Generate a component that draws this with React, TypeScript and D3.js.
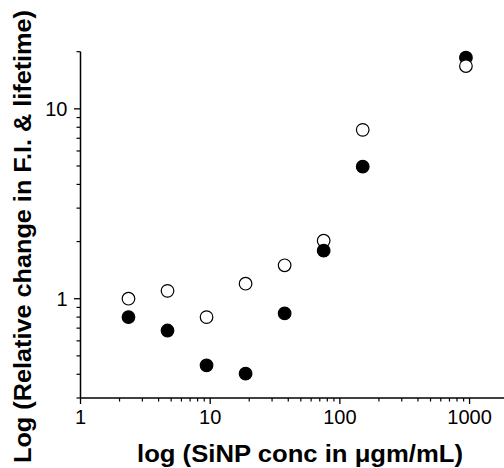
import React from "react";
import * as d3 from "d3";

const concentrations = [2.34375, 4.6875, 9.375, 18.75, 37.5, 75, 150, 937.5];
const openValues = [1.0, 1.1, 0.8, 1.2, 1.5, 2.02, 7.75, 16.8];
const filledValues = [0.8, 0.68, 0.446, 0.403, 0.837, 1.79, 4.96, 18.6];
const xMajorTicks = [1, 10, 100, 1000];
const yMajorTicks = [1, 10];
const xTitle = "log (SiNP conc in \u03BCgm/mL)";
const yTitle = "Log (Relative change in F.I. & lifetime)";

const W = 504;
const H = 468;
const FONT = "'Liberation Sans', Arial, Helvetica, sans-serif";

export default function App() {
  const x = d3.scaleLog().domain([1, 2000]).range([80.5, 508.6]);
  const y = d3.scaleLog().domain([0.3, 20]).range([398, 51.7]);

  const xMinor: number[] = [];
  for (const dec of [1, 10, 100, 1000]) {
    for (let m = 2; m <= 9; m++) {
      const v = dec * m;
      if (v <= 2000) xMinor.push(v);
    }
  }
  const yMinor: number[] = [];
  for (const dec of [0.1, 1, 10]) {
    for (let m = 2; m <= 9; m++) {
      const v = +(dec * m).toFixed(4);
      if (v >= 0.3 && v <= 20 && v !== 1 && v !== 10) yMinor.push(v);
    }
  }

  type P = { c: number; v: number; open: boolean };
  const points: P[] = [];
  concentrations.forEach((c, i) => {
    points.push({ c, v: openValues[i], open: true });
    points.push({ c, v: filledValues[i], open: false });
  });
  points.sort((a, b) => b.v - a.v);

  const x0 = x(1);
  const yb = y(0.3);

  return (
    <svg
      width={W}
      height={H}
      style={{ position: "absolute", left: 0, top: 0, background: "#fff" }}
      fontFamily={FONT}
    >
      <rect width={W} height={H} fill="#fff" />
      <line x1={x0} x2={W + 2} y1={yb} y2={yb} stroke="#000" strokeWidth={1.5} />
      <line x1={x0} x2={x0} y1={y(20)} y2={yb} stroke="#000" strokeWidth={1.5} />
      {xMajorTicks.map((t) => (
        <g key={"xm" + t}>
          <line x1={x(t)} x2={x(t)} y1={yb} y2={yb + 6} stroke="#000" strokeWidth={1.3} />
          <text x={x(t)} y={424} textAnchor="middle" fontSize={20} fill="#000">
            {t}
          </text>
        </g>
      ))}
      {xMinor.map((t) => (
        <line key={"xn" + t} x1={x(t)} x2={x(t)} y1={yb} y2={yb + 3.5} stroke="#000" strokeWidth={1.2} />
      ))}
      {yMajorTicks.map((t) => (
        <g key={"ym" + t}>
          <line x1={x0 - 6.5} x2={x0} y1={y(t)} y2={y(t)} stroke="#000" strokeWidth={1.3} />
          <text x={67.5} y={y(t) + 7} textAnchor="end" fontSize={20} fill="#000">
            {t}
          </text>
        </g>
      ))}
      {yMinor.map((t) => (
        <line key={"yn" + t} x1={x0 - 4} x2={x0} y1={y(t)} y2={y(t)} stroke="#000" strokeWidth={1.2} />
      ))}
      {points.map((p, i) => (
        <circle
          key={i}
          cx={x(p.c)}
          cy={y(p.v)}
          r={6.3}
          fill={p.open ? "#fff" : "#000"}
          stroke="#000"
          strokeWidth={1.2}
        />
      ))}
      <text
        x={137}
        y={462}
        fontSize={23}
        fontWeight="bold"
        fill="#000"
        textLength={326}
        lengthAdjust="spacingAndGlyphs"
      >
        {xTitle}
      </text>
      <text
        transform={`translate(31,463) rotate(-90)`}
        fontSize={23.5}
        fontWeight="bold"
        fill="#000"
        textLength={453}
        lengthAdjust="spacingAndGlyphs"
      >
        {yTitle}
      </text>
    </svg>
  );
}
